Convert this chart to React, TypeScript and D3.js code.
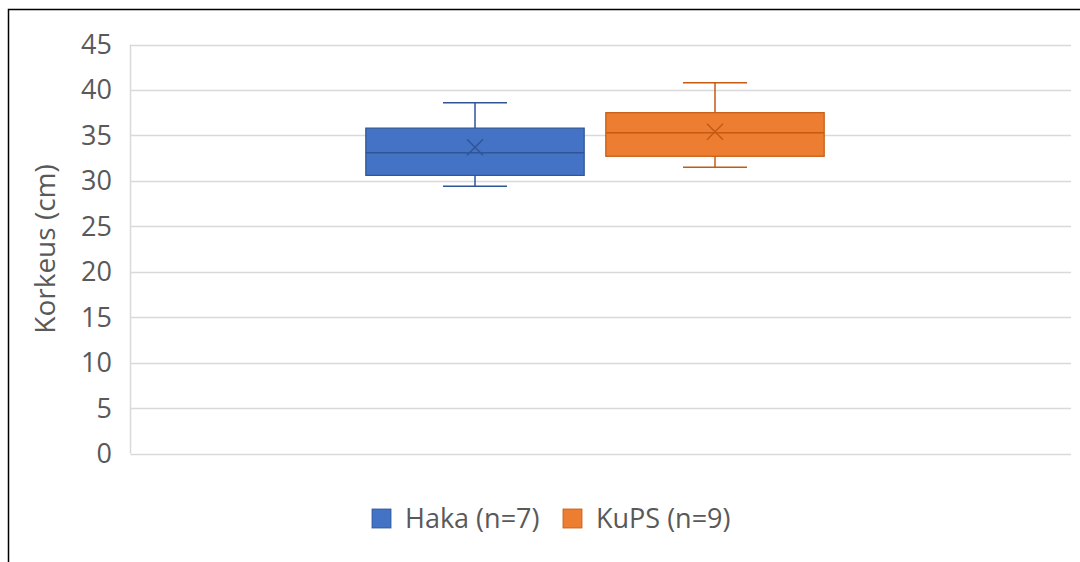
import React, { useRef, useEffect } from 'react';
import * as d3 from 'd3';

// box plot stats
const teams = ['Haka (n=7)', 'KuPS (n=9)'];
const colors = ['#4472C4', '#ED7D31'];
const strokes = ['#2F5597', '#C55A11'];
const mins = [29.4, 31.5];
const q1s = [30.6, 32.7];
const medians = [33.1, 35.3];
const means = [33.7, 35.4];
const q3s = [35.8, 37.5];
const maxs = [38.6, 40.8];
const yTicks = [0, 5, 10, 15, 20, 25, 30, 35, 40, 45];

const App = () => {
  const svgRef = useRef(null);

  useEffect(() => {
    d3.select(svgRef.current).selectAll('*').remove();
    const svg = d3.select(svgRef.current);
    const font = '"Open Sans", "DejaVu Sans", sans-serif';

    // frame
    svg
      .append('rect')
      .attr('x', 8.5)
      .attr('y', 9.5)
      .attr('width', 1100)
      .attr('height', 600)
      .attr('fill', '#fff')
      .attr('stroke', '#000')
      .attr('stroke-width', 1.5);

    const plotLeft = 130.5;
    const plotRight = 1071;
    const y = d3.scaleLinear().domain([0, 45]).range([453.5, 44.5]);
    const x = d3
      .scaleBand()
      .domain(teams)
      .range([355, 835])
      .paddingInner(0.09)
      .paddingOuter(0.045);

    // gridlines
    svg
      .append('g')
      .selectAll('line')
      .data(yTicks)
      .join('line')
      .attr('x1', plotLeft)
      .attr('x2', plotRight)
      .attr('y1', (d) => Math.round(y(d)) + 0.5)
      .attr('y2', (d) => Math.round(y(d)) + 0.5)
      .attr('stroke', '#d9d9d9')
      .attr('stroke-width', 1.5);

    svg
      .append('line')
      .attr('x1', plotLeft)
      .attr('x2', plotLeft)
      .attr('y1', y(45))
      .attr('y2', y(0))
      .attr('stroke', '#d9d9d9')
      .attr('stroke-width', 1.5);

    // tick labels
    svg
      .append('g')
      .selectAll('text')
      .data(yTicks)
      .join('text')
      .attr('x', 112)
      .attr('y', (d) => y(d))
      .attr('dy', '0.35em')
      .attr('text-anchor', 'end')
      .style('font-family', font)
      .style('font-size', '27px')
      .attr('fill', '#595959')
      .text((d) => d);

    // axis title
    svg
      .append('text')
      .attr('transform', `translate(45,${y(22.5)}) rotate(-90)`)
      .attr('dy', '0.35em')
      .attr('text-anchor', 'middle')
      .style('font-family', font)
      .style('font-size', '28px')
      .attr('fill', '#595959')
      .text('Korkeus (cm)');

    // boxes
    const boxes = svg
      .append('g')
      .selectAll('g')
      .data(teams)
      .join('g');

    boxes.each(function (t, i) {
      const g = d3.select(this);
      const x0 = x(t);
      const bw = x.bandwidth();
      const cx = x0 + bw / 2;
      const cap = 32;

      g.append('line')
        .attr('x1', cx)
        .attr('x2', cx)
        .attr('y1', y(maxs[i]))
        .attr('y2', y(q3s[i]))
        .attr('stroke', strokes[i])
        .attr('stroke-width', 1.5);
      g.append('line')
        .attr('x1', cx)
        .attr('x2', cx)
        .attr('y1', y(q1s[i]))
        .attr('y2', y(mins[i]))
        .attr('stroke', strokes[i])
        .attr('stroke-width', 1.5);
      [maxs[i], mins[i]].forEach((v) => {
        g.append('line')
          .attr('x1', cx - cap)
          .attr('x2', cx + cap)
          .attr('y1', y(v))
          .attr('y2', y(v))
          .attr('stroke', strokes[i])
          .attr('stroke-width', 1.5);
      });

      g.append('rect')
        .attr('x', x0)
        .attr('y', y(q3s[i]))
        .attr('width', bw)
        .attr('height', y(q1s[i]) - y(q3s[i]))
        .attr('fill', colors[i])
        .attr('stroke', strokes[i])
        .attr('stroke-width', 1.2);

      g.append('line')
        .attr('x1', x0)
        .attr('x2', x0 + bw)
        .attr('y1', y(medians[i]))
        .attr('y2', y(medians[i]))
        .attr('stroke', strokes[i])
        .attr('stroke-width', 1.5);

      const m = 8;
      const my = y(means[i]);
      g.append('path')
        .attr('d', `M${cx - m},${my - m}L${cx + m},${my + m}M${cx - m},${my + m}L${cx + m},${my - m}`)
        .attr('stroke', strokes[i])
        .attr('stroke-width', 1.5)
        .attr('fill', 'none');
    });

    // legend
    const legendX = [372, 563];
    const legend = svg
      .append('g')
      .selectAll('g')
      .data(teams)
      .join('g')
      .attr('transform', (d, i) => `translate(${legendX[i]},509)`);
    legend
      .append('rect')
      .attr('width', 19)
      .attr('height', 19)
      .attr('fill', (d, i) => colors[i])
      .attr('stroke', (d, i) => strokes[i])
      .attr('stroke-width', 0.8);
    legend
      .append('text')
      .attr('x', 33)
      .attr('y', 9.5)
      .attr('dy', '0.35em')
      .style('font-family', font)
      .style('font-size', '27px')
      .attr('fill', '#595959')
      .text((d) => d);
  }, []);

  return (
    <svg
      ref={svgRef}
      width={1080}
      height={562}
      style={{ position: 'absolute', left: 0, top: 0, background: '#fff' }}
    ></svg>
  );
};

export default App;
